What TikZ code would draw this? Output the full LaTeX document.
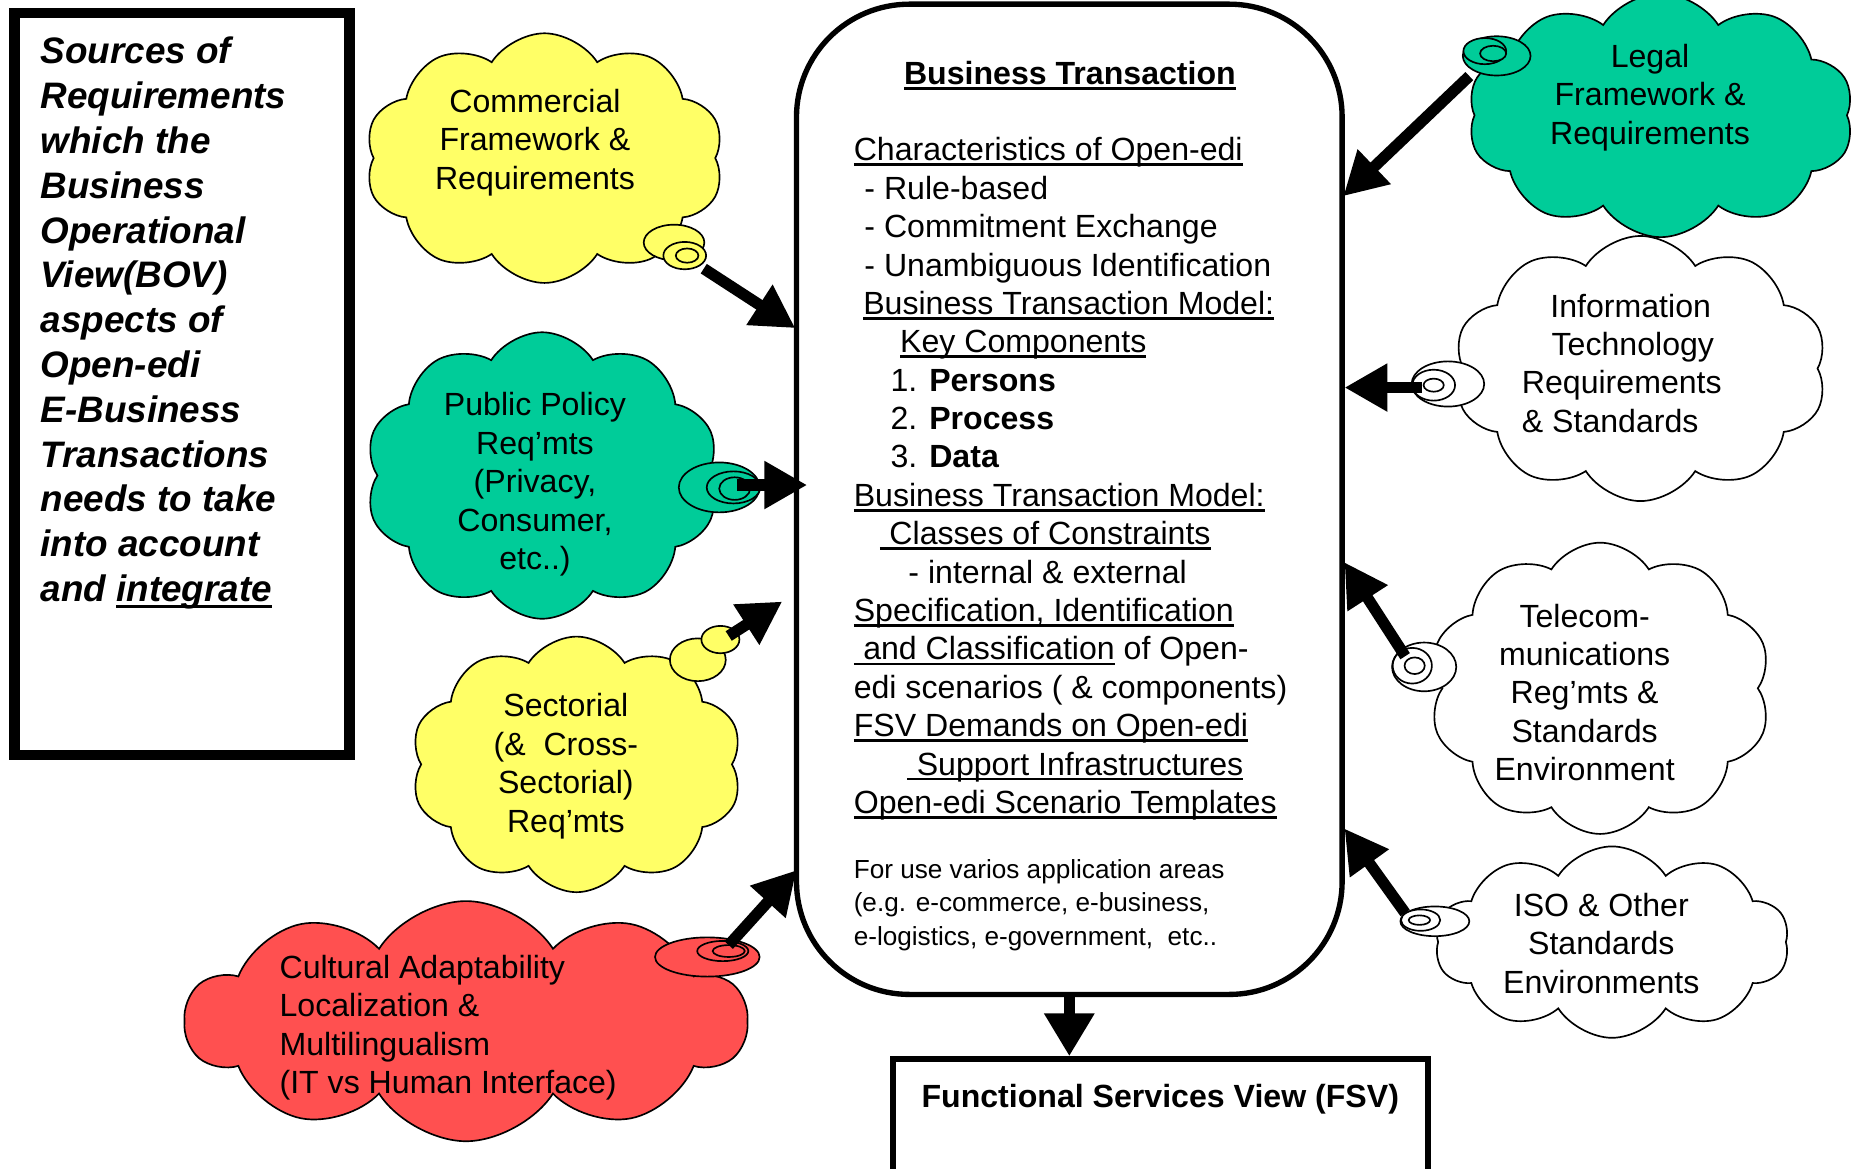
\documentclass[tikz,border=0pt]{standalone}
\usepackage{fontspec}
\setmainfont{Liberation Sans}
\usetikzlibrary{shapes.symbols, arrows.meta, positioning}
\definecolor{cloudyellow}{HTML}{FFFF66}
\definecolor{cloudgreen}{HTML}{00CC99}
\definecolor{cloudred}{HTML}{FF5050}
\newcommand{\ulbox}[1]{\setbox0\hbox{#1}\rlap{\rule[-0.16em]{\wd0}{0.08em}}\box0\relax}

\begin{document}
\begin{tikzpicture}[x=1pt, y=-1pt,
    txt/.style={font=\fontsize{27}{32.3}\selectfont, inner sep=0pt, align=center},
    puff/.style={cloud, cloud puffs=10, cloud puff arc=115, draw, line width=1.4pt, inner sep=0pt},
    bubble/.style={draw, line width=1.4pt},
    fat/.style={line width=9.5pt, -{Triangle[length=36pt, width=38pt]}}]
    \clip (0,0) rectangle (1568,983);
    % Left box
    \node[draw, line width=9pt, minimum width=282, minimum height=624, inner sep=0pt] (srcbox) at (153,323) {};
    \node[anchor=north west, inner sep=0pt, align=left, font=\fontsize{31}{37.7}\selectfont\bfseries\itshape] (srctext) at (34,31)
        {Sources of\\Requirements\\which the\\Business\\Operational\\View(BOV)\\aspects of\\Open-edi\\E-Business\\Transactions\\needs to take\\into account\\and \ulbox{integrate}};
    % Business transaction
    \node[draw, line width=4.5pt, rounded corners=95pt, minimum width=459, minimum height=833, inner sep=0pt] (bt) at (899.5,420) {};
    \node[txt, anchor=base] (bttitle) at (900,71) {\bfseries\ulbox{Business Transaction}};
    \node[txt, anchor=north west, align=left] (btbody) at (718,115.5)
        {\ulbox{Characteristics of Open-edi}\\
        \hspace*{9pt}- Rule-based\\
        \hspace*{9pt}- Commitment Exchange\\
        \hspace*{9pt}- Unambiguous Identification\\
        \hspace*{8pt}\ulbox{Business Transaction Model:}\\
        \hspace*{39pt}\ulbox{Key Components}\\
        \hspace*{31pt}1. \textbf{Persons}\\
        \hspace*{31pt}2. \textbf{Process}\\
        \hspace*{31pt}3. \textbf{Data}\\
        \ulbox{Business Transaction Model:}\\
        \hspace*{22pt}\ulbox{\hspace*{8pt}Classes of Constraints}\\
        \hspace*{46pt}- internal \& external\\
        \ulbox{Specification, Identification}\\
        \ulbox{\hspace*{8pt}and Classification} of Open-\\
        edi scenarios ( \& components)\\
        \ulbox{FSV Demands on Open-edi}\\
        \hspace*{45pt}\ulbox{\hspace*{8pt}Support Infrastructures}\\
        \ulbox{Open-edi Scenario Templates}};
    \node[anchor=north west, inner sep=0pt, align=left, font=\fontsize{22}{28}\selectfont] (btuse) at (718,723)
        {For use varios application areas\\(e.g. e-commerce, e-business,\\e-logistics, e-government,\ \ etc..};
    % Functional services view
    \node[draw, line width=5pt, minimum width=450, minimum height=160, inner sep=0pt] (fsv) at (976,971) {};
    \node[txt, anchor=base] (fsvtext) at (976,932) {\bfseries Functional Services View (FSV)};
    \draw[fat, -{Triangle[length=36pt, width=40pt]}] (bt.south) -- (bt.south |- fsv.north);

    % Left clouds
    \node[puff, fill=cloudyellow, minimum width=302, minimum height=210, aspect=1.44] (comcloud) at (458,133) {};
    \node[txt] (comtext) at (450,120) {Commercial\\Framework \&\\Requirements};
    \draw[bubble, fill=cloudyellow] (567,204) ellipse (25.5 and 15);
    \draw[bubble, fill=cloudyellow] (576,215) ellipse (18 and 11.5);
    \draw[bubble, fill=cloudyellow] (578,215) ellipse (9.5 and 6);

    \node[puff, fill=cloudgreen, minimum width=298, minimum height=241, aspect=1.24] (polcloud) at (456,400) {};
    \node[txt] (poltext) at (450,407.5) {Public Policy\\Req’mts\\(Privacy,\\Consumer,\\etc..)};
    \draw[bubble, fill=cloudgreen] (605,410) ellipse (34 and 21);
    \draw[bubble, fill=cloudgreen] (617,410) ellipse (22.5 and 13.5);
    \draw[bubble, fill=cloudgreen] (618,411) ellipse (13 and 9.5);

    \node[puff, fill=cloudyellow, minimum width=279, minimum height=215, aspect=1.3] (seccloud) at (485,643) {};
    \node[txt] (sectext) at (476,644.5) {Sectorial\\(\&\ \ Cross-\\Sectorial)\\Req’mts};
    \draw[bubble, fill=cloudyellow] (587,555) ellipse (23.5 and 18);
    \draw[bubble, fill=cloudyellow] (606,538) ellipse (16 and 11.5);

    \node[puff, fill=cloudred, minimum width=472, minimum height=202, aspect=2.34] (culcloud) at (392,859) {};
    \node[txt, anchor=west, align=left] (cultext) at (235,864.5) {Cultural Adaptability\\Localization \&\\Multilingualism\\(IT vs Human Interface)};
    \draw[bubble, fill=cloudred] (595,805) ellipse (44 and 16.5);
    \draw[bubble, fill=cloudred] (608,800) ellipse (21.5 and 8.5);
    \draw[bubble, fill=cloudred] (613,800) ellipse (13.5 and 5);

    % Right clouds
    \node[puff, fill=cloudgreen, minimum width=325, minimum height=205, aspect=1.58] (legcloud) at (1397,97) {};
    \node[txt] (legtext) at (1388,82) {Legal\\Framework \&\\Requirements};
    \draw[bubble, fill=cloudgreen] (1259,47) ellipse (28.5 and 16.5);
    \draw[bubble, fill=cloudgreen] (1249,43) ellipse (18 and 11);
    \draw[bubble, fill=cloudgreen] (1256,45) ellipse (11 and 6.5);

    \node[puff, fill=white, minimum width=314, minimum height=223, aspect=1.41] (itcloud) at (1380,310) {};
    \node[txt, anchor=west, align=left] (ittext) at (1280,305.5) {\hspace*{24pt}Information\\\hspace*{25pt}Technology\\Requirements\\\& Standards};
    \draw[bubble, fill=white] (1218,323) ellipse (30.5 and 19);
    \draw[bubble, fill=white] (1206,324) ellipse (18 and 13);
    \draw[bubble, fill=white] (1206,324) ellipse (8.5 and 5.5);

    \node[puff, fill=white, minimum width=288, minimum height=245, aspect=1.18] (telcloud) at (1346,579) {};
    \node[txt] (teltext) at (1333,582.5) {Telecom-\\munications\\Reg’mts \&\\Standards\\Environment};
    \draw[bubble, fill=white] (1198,561) ellipse (27 and 20.5);
    \draw[bubble, fill=white] (1188,560) ellipse (16.5 and 15);
    \draw[bubble, fill=white] (1190,560) ellipse (8.5 and 7);

    \node[puff, fill=white, minimum width=298, minimum height=161, aspect=1.85] (isocloud) at (1356,792.5) {};
    \node[txt] (isotext) at (1347,793.5) {ISO \& Other\\Standards\\Environments};
    \draw[bubble, fill=white] (1207,775) ellipse (29 and 12.5);
    \draw[bubble, fill=white] (1195,774) ellipse (16.5 and 9);
    \draw[bubble, fill=white] (1194,774) ellipse (9 and 4);

    % Arrows into the business transaction
    \coordinate (comtail) at (592,226);   \coordinate (comtip) at (669,276);
    \coordinate (poltail) at (620,408);   \coordinate (poltip) at (679,408);
    \coordinate (sectail) at (613,535);   \coordinate (sectip) at (658,506);
    \coordinate (cultail) at (613,795);   \coordinate (cultip) at (670,732);
    \coordinate (legtail) at (1236,64);   \coordinate (legtip) at (1130,165);
    \coordinate (ittail) at (1196,326);   \coordinate (ittip) at (1131,326);
    \coordinate (teltail) at (1182,552);  \coordinate (teltip) at (1131,473);
    \coordinate (isotail) at (1182,768);  \coordinate (isotip) at (1131,697);
    \foreach \src in {com, pol, sec, cul, leg, it, tel, iso}
        \draw[fat] (\src tail) -- (\src tip);
\end{tikzpicture}
\end{document}
